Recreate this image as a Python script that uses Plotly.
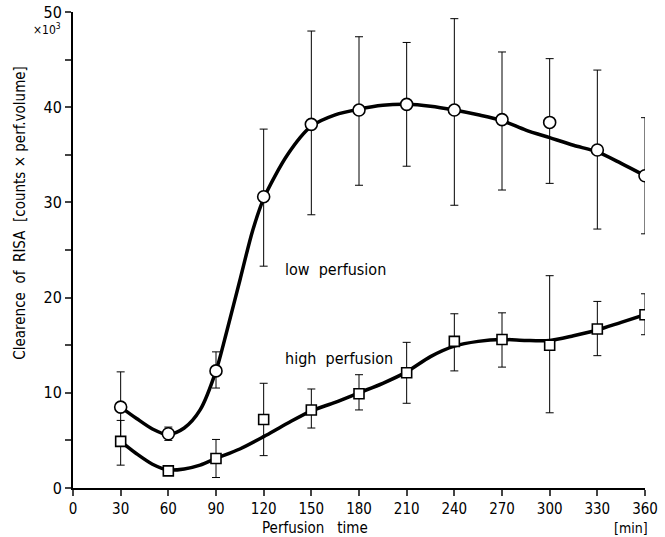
import plotly.graph_objects as go

# ---- data (values in units of 10^3) ----
times = [30, 60, 90, 120, 150, 180, 210, 240, 270, 300, 330, 360]

low_mean = [8.5, 5.7, 12.3, 30.6, 38.2, 39.7, 40.3, 39.7, 38.7, 38.4, 35.5, 32.8]
low_upper = [12.2, 6.4, 14.3, 37.7, 48.0, 47.4, 46.8, 49.3, 45.8, 45.1, 43.9, 38.9]
low_lower = [4.8, 5.0, 10.5, 23.3, 28.7, 31.8, 33.8, 29.7, 31.3, 32.0, 27.2, 26.7]

high_mean = [4.9, 1.8, 3.1, 7.2, 8.2, 9.9, 12.1, 15.4, 15.6, 15.0, 16.7, 18.2]
high_upper = [7.1, 1.9, 5.1, 11.0, 10.4, 11.9, 15.3, 18.3, 18.4, 22.3, 19.6, 20.4]
high_lower = [2.4, 1.7, 1.1, 3.4, 6.3, 8.2, 8.9, 12.3, 12.7, 7.9, 13.9, 16.1]

# fitted curves as drawn by hand in the figure
low_curve_t = [30, 40, 50, 60, 70, 80, 90, 97, 105, 113, 120, 135, 150, 165, 180,
               195, 210, 225, 240, 255, 270, 285, 300, 315, 330, 345, 360]
low_curve = [8.5, 7.3, 6.2, 5.6, 6.3, 8.2, 12.3, 16.6, 21.8, 27.0, 30.4, 35.0, 38.0,
             39.2, 39.8, 40.2, 40.3, 40.1, 39.7, 39.2, 38.6, 37.6, 36.8, 36.0, 35.3,
             34.1, 32.8]
high_curve_t = [30, 40, 50, 60, 70, 80, 90, 105, 120, 135, 150, 165, 180, 195, 210,
                225, 240, 255, 270, 285, 300, 315, 330, 345, 360]
high_curve = [4.9, 3.6, 2.5, 1.9, 2.0, 2.4, 3.1, 4.1, 5.4, 6.8, 8.1, 9.0, 10.0,
              11.0, 12.2, 13.8, 14.9, 15.4, 15.6, 15.5, 15.5, 16.0, 16.6, 17.4, 18.2]

x_ticks = [0, 30, 60, 90, 120, 150, 180, 210, 240, 270, 300, 330, 360]
y_ticks = [0, 5, 10, 15, 20, 25, 30, 35, 40, 45, 50]
y_ticktext = ["0", "", "10", "", "20", "", "30", "", "40", "", "50"]

FONT = "DejaVu Sans Condensed, DejaVu Sans, sans-serif"

fig = go.Figure()

# curves
for ct, yc in ((low_curve_t, low_curve), (high_curve_t, high_curve)):
    fig.add_trace(go.Scatter(x=ct, y=yc, mode="lines",
                             line=dict(color="black", width=3.5, shape="spline",
                                       smoothing=0.8),
                             hoverinfo="skip", showlegend=False))

# points with error bars
fig.add_trace(go.Scatter(
    x=times, y=low_mean, mode="markers", showlegend=False,
    marker=dict(symbol="circle", size=12, color="white",
                line=dict(color="black", width=1.6)),
    error_y=dict(type="data", symmetric=False,
                 array=[u - m for u, m in zip(low_upper, low_mean)],
                 arrayminus=[m - l for m, l in zip(low_mean, low_lower)],
                 color="black", thickness=1, width=4)))
fig.add_trace(go.Scatter(
    x=times, y=high_mean, mode="markers", showlegend=False,
    marker=dict(symbol="square", size=10, color="white",
                line=dict(color="black", width=1.6)),
    error_y=dict(type="data", symmetric=False,
                 array=[u - m for u, m in zip(high_upper, high_mean)],
                 arrayminus=[m - l for m, l in zip(high_mean, high_lower)],
                 color="black", thickness=1, width=4)))

fig.add_annotation(x=132, y=22.9, text="low  perfusion", showarrow=False,
                   xanchor="left", font=dict(size=16, color="black", family=FONT))
fig.add_annotation(x=132, y=13.6, text="high  perfusion", showarrow=False,
                   xanchor="left", font=dict(size=16, color="black", family=FONT))
fig.add_annotation(x=0, y=48.2, text="×10<sup>3</sup>", showarrow=False,
                   xref="x", yref="y", xanchor="right", xshift=-10,
                   font=dict(size=12, color="black", family=FONT))
# x-axis title (placed left of centre as in the original)
fig.add_annotation(x=152, y=0, xref="x", yref="paper", yshift=-40,
                   text="Perfusion   time", showarrow=False,
                   xanchor="center", yanchor="middle",
                   font=dict(size=15, color="black", family=FONT))
fig.add_annotation(x=(631 - 73) / 572, y=0, xref="paper", yref="paper",
                   yshift=-40, text="[min]", showarrow=False, xanchor="center",
                   yanchor="middle", font=dict(size=14, color="black", family=FONT))
# y-axis title
fig.add_annotation(x=-0.093, y=28.9, xref="paper", yref="y",
                   text="Clearence  of  RISA  [counts × perf.volume]",
                   textangle=-90, showarrow=False, xanchor="center",
                   yanchor="middle", font=dict(size=15, color="black", family=FONT))

fig.update_layout(
    width=665, height=537,
    margin=dict(l=73, r=20, t=12, b=49),
    paper_bgcolor="white", plot_bgcolor="white",
    font=dict(family=FONT, size=15, color="black"),
    xaxis=dict(range=[0, 360], tickvals=x_ticks, ticks="outside", ticklen=6,
               tickwidth=1.5, showline=True, linewidth=2, linecolor="black",
               showgrid=False, zeroline=False, automargin=False,
               tickfont=dict(size=15, color="black")),
    yaxis=dict(range=[0, 50], tickvals=y_ticks, ticktext=y_ticktext,
               ticks="outside", ticklen=6, tickwidth=1.5, showline=True,
               linewidth=2, linecolor="black", showgrid=False, zeroline=False,
               automargin=False, tickfont=dict(size=16, color="black")),
)

fig.write_html("out.html")
